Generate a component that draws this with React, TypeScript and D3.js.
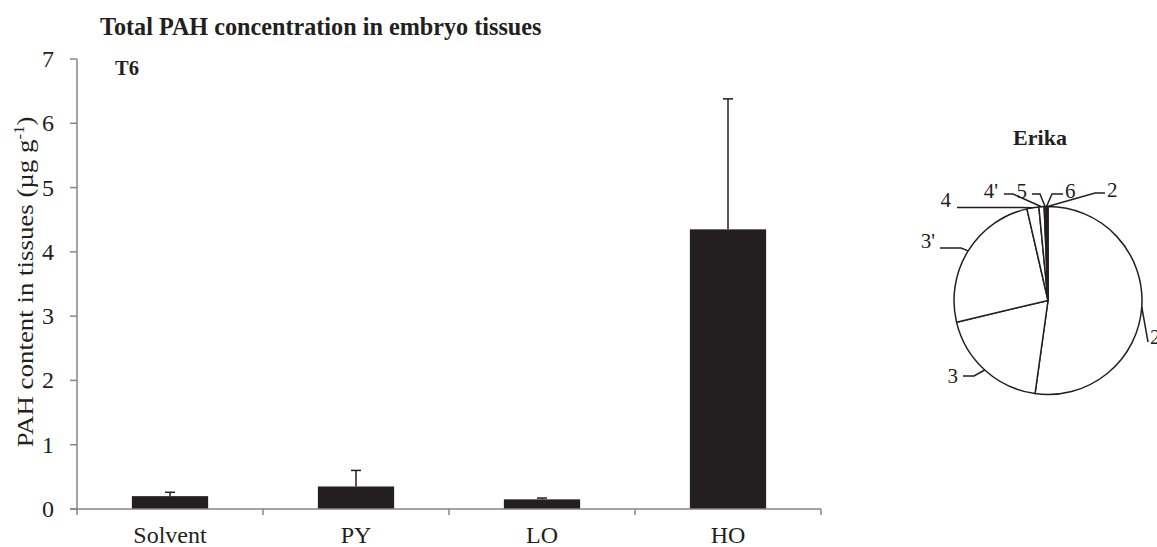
import React from "react";
import * as d3 from "d3";

const categories = ["Solvent", "PY", "LO", "HO"];
const means = [0.2, 0.35, 0.15, 4.35];
const errTops = [0.26, 0.6, 0.17, 6.38];
const yTicks = [0, 1, 2, 3, 4, 5, 6, 7];

const pieKeys = ["2a", "3", "3p", "4", "4p", "5", "6", "2b"];
const pieLabels = ["2", "3", "3'", "4", "4'", "5", "6", "2"];
const pieValues = [52.2, 19.1, 25.1, 2.05, 0.9, 0.3, 0.2, 0.15];

// leader-line layout for pie labels: elbow, end, text pos, anchor
const labelLayout: Record<string, { elbow: [number, number]; end: [number, number]; tx: number; ty: number; anchor: string }> = {
  "2a": { elbow: [1148, 342], end: [1148, 342], tx: 1150, ty: 344, anchor: "start" },
  "3": { elbow: [974, 376], end: [963, 376], tx: 958, ty: 383, anchor: "end" },
  "3p": { elbow: [961, 248], end: [940, 248], tx: 935, ty: 248, anchor: "end" },
  "4": { elbow: [1020, 207.5], end: [957, 207.5], tx: 951, ty: 207, anchor: "end" },
  "4p": { elbow: [1013, 194], end: [1004, 194], tx: 998, ty: 198, anchor: "end" },
  "5": { elbow: [1040, 194], end: [1032, 194], tx: 1027, ty: 198, anchor: "end" },
  "6": { elbow: [1052, 194], end: [1063, 194], tx: 1065, ty: 198, anchor: "start" },
  "2b": { elbow: [1095, 193], end: [1105, 193], tx: 1107, ty: 197, anchor: "start" },
};

const FONT = "'Liberation Serif', 'Times New Roman', serif";
const AXIS = "#868686";
const BAR = "#231f20";

export default function App() {
  const W = 1157, H = 547;
  const x0 = 77, x1 = 821, yTop = 59, yBot = 509;
  const y = d3.scaleLinear().domain([0, 7]).range([yBot, yTop]);
  const x = d3.scaleBand<string>().domain(categories).range([x0, x1]).paddingInner(0.59).paddingOuter(0.295);
  const step = (x1 - x0) / categories.length;
  const boundaries = d3.range(categories.length + 1).map((i) => x0 + i * step);

  const cx = 1048, cy = 300.5, r = 94;
  const pie = d3.pie<number>().sort(null).value((d) => d)(pieValues);
  const arc = d3.arc<d3.PieArcDatum<number>>().innerRadius(0).outerRadius(r);

  return (
    <svg width={W} height={H} style={{ position: "absolute", left: 0, top: 0, display: "block" }} fontFamily={FONT}>
      <rect width={W} height={H} fill="#fff" />
      <text x={100} y={35} fontSize={24.2} fontWeight="bold" fill="#231f20">Total PAH concentration in embryo tissues</text>
      <text x={115} y={75} fontSize={20.5} fontWeight="bold" fill="#231f20">T6</text>

      {/* y axis */}
      <line x1={x0} x2={x0} y1={yTop} y2={yBot} stroke={AXIS} strokeWidth={1.5} />
      {yTicks.map((t) => (
        <g key={t}>
          <line x1={x0 - 7} x2={x0} y1={y(t)} y2={y(t)} stroke={AXIS} strokeWidth={1.5} />
          <text x={54} y={y(t) + 8} fontSize={24} textAnchor="end" fill="#231f20">{t}</text>
        </g>
      ))}
      <text transform={`translate(33,${(yTop + yBot) / 2 - 2}) rotate(-90) scale(1.12,1)`} fontSize={24} textAnchor="middle" fill="#231f20">
        PAH content in tissues (µg g<tspan dy={-9} fontSize={15}>-1</tspan><tspan dy={9}>)</tspan>
      </text>

      {/* bars */}
      {categories.map((c, i) => {
        const bx = x(c)!;
        const bw = x.bandwidth();
        const mid = bx + bw / 2;
        return (
          <g key={c}>
            <line x1={mid} x2={mid} y1={y(means[i])} y2={y(errTops[i])} stroke={BAR} strokeWidth={1.5} />
            <line x1={mid - 5} x2={mid + 5} y1={y(errTops[i])} y2={y(errTops[i])} stroke={BAR} strokeWidth={1.5} />
            <rect x={bx} y={y(means[i])} width={bw} height={yBot - y(means[i])} fill={BAR} />
            <text x={mid} y={543} fontSize={24} textAnchor="middle" fill="#231f20">{c}</text>
          </g>
        );
      })}

      {/* x axis */}
      <line x1={x0 - 7} x2={x1} y1={yBot} y2={yBot} stroke={AXIS} strokeWidth={1.5} />
      {boundaries.map((b, i) => (
        <line key={i} x1={b} x2={b} y1={yBot} y2={yBot + 6} stroke={AXIS} strokeWidth={1.5} />
      ))}

      {/* pie */}
      <text x={1040} y={145} fontSize={22} fontWeight="bold" textAnchor="middle" fill="#231f20">Erika</text>
      <g transform={`translate(${cx},${cy})`}>
        {pie.map((p, i) => (
          <path key={pieKeys[i]} d={arc(p) || ""} fill="#fff" stroke="#231f20" strokeWidth={1.5} strokeLinejoin="round" />
        ))}
      </g>
      {pie.map((p, i) => {
        const key = pieKeys[i];
        const L = labelLayout[key];
        const a = (p.startAngle + p.endAngle) / 2;
        const sx = cx + r * Math.sin(a);
        const sy = cy - r * Math.cos(a);
        return (
          <g key={key}>
            <polyline points={`${sx},${sy} ${L.elbow[0]},${L.elbow[1]} ${L.end[0]},${L.end[1]}`} fill="none" stroke="#231f20" strokeWidth={1.5} />
            <text x={L.tx} y={L.ty} fontSize={21} textAnchor={L.anchor} fill="#231f20">{pieLabels[i]}</text>
          </g>
        );
      })}
    </svg>
  );
}
